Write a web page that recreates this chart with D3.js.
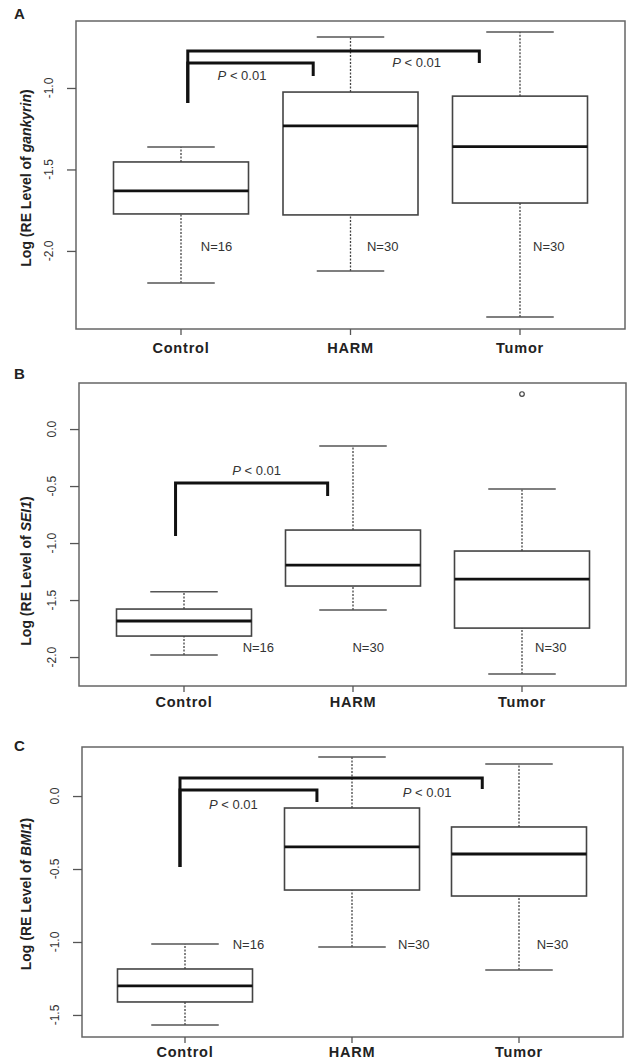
<!DOCTYPE html>
<html>
  <head>
    <meta charset="utf-8" />
    <script src="https://d3js.org/d3.v7.min.js"></script>
    <style>
      body { margin: 0; background: #fff; }
      text { font-family: "Liberation Sans", Arial, sans-serif; }
    </style>
  </head>
  <body>
    <div id="chart"></div>
    <script>
      const groups = ["Control", "HARM", "Tumor"];
      const nCounts = [16, 30, 30];

      // five-number summaries: [low whisker, Q1, median, Q3, high whisker]
      const gankyrinStats = [
        [-2.196, -1.773, -1.632, -1.454, -1.362],
        [-2.123, -1.779, -1.233, -1.025, -0.687],
        [-2.405, -1.706, -1.36, -1.05, -0.656],
      ];
      const sei1Stats = [
        [-1.982, -1.816, -1.684, -1.579, -1.428],
        [-1.588, -1.377, -1.193, -0.886, -0.149],
        [-2.149, -1.746, -1.316, -1.07, -0.526],
      ];
      const bmi1Stats = [
        [-1.568, -1.411, -1.301, -1.185, -1.014],
        [-1.034, -0.644, -0.349, -0.082, 0.267],
        [-1.192, -0.685, -0.397, -0.212, 0.219],
      ];
      const sei1Outliers = [{ group: 3, value: 0.307 }];

      const yTicksA = [-2.0, -1.5, -1.0];
      const yTicksB = [-2.0, -1.5, -1.0, -0.5, 0.0];
      const yTicksC = [-1.5, -1.0, -0.5, 0.0];
      const yDomainA = [-2.479, -0.589];
      const yDomainB = [-2.254, 0.404];
      const yDomainC = [-1.651, 0.336];

      // significance brackets: [x from, x to, top value, left foot, right foot]
      const bracketsA = [
        [1.04, 2.76, -0.773, -1.092, -0.847],
        [1.04, 1.78, -0.847, -1.092, -0.926],
      ];
      const bracketsB = [[0.95, 1.85, -0.474, -0.939, -0.588]];
      const bracketsC = [
        [0.97, 2.78, 0.123, -0.486, 0.048],
        [0.97, 1.79, 0.041, -0.486, -0.041],
      ];
      // P label positions: [x, baseline value]
      const pLabelsA = [[1.36, -0.951], [2.39, -0.871]];
      const pLabelsB = [[1.43, -0.404]];
      const pLabelsC = [[1.29, -0.089], [2.45, -0.007]];
      // N label positions: [x, value]
      const nPosA = [[1.21, -1.975], [2.19, -1.975], [3.17, -1.975]];
      const nPosB = [[1.44, -1.92], [2.09, -1.92], [3.17, -1.92]];
      const nPosC = [[1.38, -1.02], [2.37, -1.02], [3.2, -1.02]];

      const panels = [
        { letter: "A", gene: "gankyrin", stats: gankyrinStats, outliers: [], ticks: yTicksA, domain: yDomainA,
          brackets: bracketsA, pLabels: pLabelsA, nPos: nPosA,
          frame: { left: 76, right: 625, top: 21, bottom: 329 }, centers: [181, 520],
          letterY: 19, titleY: 178, xLabelY: 353 },
        { letter: "B", gene: "SEI1", stats: sei1Stats, outliers: sei1Outliers, ticks: yTicksB, domain: yDomainB,
          brackets: bracketsB, pLabels: pLabelsB, nPos: nPosB,
          frame: { left: 79, right: 626, top: 383, bottom: 686 }, centers: [184, 522],
          letterY: 379, titleY: 571, xLabelY: 707 },
        { letter: "C", gene: "BMI1", stats: bmi1Stats, outliers: [], ticks: yTicksC, domain: yDomainC,
          brackets: bracketsC, pLabels: pLabelsC, nPos: nPosC,
          frame: { left: 82, right: 623, top: 747, bottom: 1037 }, centers: [185, 519],
          letterY: 751, titleY: 894, xLabelY: 1057 },
      ];

      const svg = d3.select("#chart").append("svg").attr("width", 627).attr("height", 1062);
      const fmt = (v) => d3.format(".1f")(v).replace("−", "-");
      const boxW = 135;

      panels.forEach((p) => {
        const f = p.frame;
        const g = svg.append("g");
        const x = d3.scaleLinear().domain([1, 3]).range(p.centers);
        const y = d3.scaleLinear().domain(p.domain).range([f.bottom, f.top]);

        g.append("text").attr("x", 14).attr("y", p.letterY)
          .attr("font-size", 15).attr("font-weight", "bold").attr("fill", "#222").text(p.letter);

        // frame
        g.append("rect").attr("x", f.left).attr("y", f.top)
          .attr("width", f.right - f.left).attr("height", f.bottom - f.top)
          .attr("fill", "none").attr("stroke", "#666").attr("stroke-width", 1.5);

        // y axis
        const yAxis = g.append("g").attr("transform", `translate(${f.left},0)`)
          .call(d3.axisLeft(y).tickValues(p.ticks).tickSize(9).tickFormat(""));
        yAxis.select(".domain").remove();
        yAxis.selectAll("line").attr("stroke", "#555").attr("stroke-width", 1.3);
        g.selectAll(".ytl").data(p.ticks).enter().append("text")
          .attr("transform", (d) => `translate(${f.left - 23},${y(d)}) rotate(-90)`)
          .attr("text-anchor", "middle").attr("font-size", 12).attr("fill", "#333")
          .text(fmt);

        // y title
        const t = g.append("text")
          .attr("transform", `translate(31,${p.titleY}) rotate(-90)`)
          .attr("text-anchor", "middle").attr("font-size", 14).attr("font-weight", "bold").attr("fill", "#222");
        t.append("tspan").text("Log (RE Level of ");
        t.append("tspan").attr("font-style", "italic").text(p.gene);
        t.append("tspan").text(")");

        // x axis ticks and labels
        g.selectAll(".xt").data(groups).enter().append("line")
          .attr("x1", (d, i) => x(i + 1)).attr("x2", (d, i) => x(i + 1))
          .attr("y1", f.bottom).attr("y2", f.bottom + 6)
          .attr("stroke", "#555").attr("stroke-width", 1.3);
        g.selectAll(".xl").data(groups).enter().append("text")
          .attr("x", (d, i) => x(i + 1)).attr("y", p.xLabelY)
          .attr("text-anchor", "middle").attr("font-size", 14.5).attr("letter-spacing", 0.8)
          .attr("font-weight", "bold").attr("fill", "#222")
          .text((d) => d);

        // boxes
        const box = g.selectAll(".box").data(p.stats).enter().append("g");
        box.append("line").attr("x1", (d, i) => x(i + 1)).attr("x2", (d, i) => x(i + 1))
          .attr("y1", (d) => y(d[3])).attr("y2", (d) => y(d[4]))
          .attr("stroke", "#444").attr("stroke-width", 1.3).attr("stroke-dasharray", "2,1.5");
        box.append("line").attr("x1", (d, i) => x(i + 1)).attr("x2", (d, i) => x(i + 1))
          .attr("y1", (d) => y(d[0])).attr("y2", (d) => y(d[1]))
          .attr("stroke", "#444").attr("stroke-width", 1.3).attr("stroke-dasharray", "2,1.5");
        [0, 4].forEach((k) => {
          box.append("line").attr("x1", (d, i) => x(i + 1) - boxW / 4).attr("x2", (d, i) => x(i + 1) + boxW / 4)
            .attr("y1", (d) => y(d[k])).attr("y2", (d) => y(d[k]))
            .attr("stroke", "#555").attr("stroke-width", 1.5);
        });
        box.append("rect").attr("x", (d, i) => x(i + 1) - boxW / 2).attr("width", boxW)
          .attr("y", (d) => y(d[3])).attr("height", (d) => y(d[1]) - y(d[3]))
          .attr("fill", "none").attr("stroke", "#444").attr("stroke-width", 1.6);
        box.append("line").attr("x1", (d, i) => x(i + 1) - boxW / 2).attr("x2", (d, i) => x(i + 1) + boxW / 2)
          .attr("y1", (d) => y(d[2])).attr("y2", (d) => y(d[2]))
          .attr("stroke", "#111").attr("stroke-width", 2.8);

        g.selectAll(".out").data(p.outliers).enter().append("circle")
          .attr("cx", (d) => x(d.group)).attr("cy", (d) => y(d.value)).attr("r", 2.3)
          .attr("fill", "none").attr("stroke", "#444").attr("stroke-width", 1.2);

        // brackets
        g.selectAll(".br").data(p.brackets).enter().append("path")
          .attr("d", (d) => `M${x(d[0])},${y(d[3])}V${y(d[2])}H${x(d[1])}V${y(d[4])}`)
          .attr("fill", "none").attr("stroke", "#111").attr("stroke-width", 3);
        p.pLabels.forEach((d) => {
          const pt = g.append("text").attr("x", x(d[0])).attr("y", y(d[1]))
            .attr("text-anchor", "middle").attr("font-size", 13).attr("fill", "#333");
          pt.append("tspan").attr("font-style", "italic").text("P");
          pt.append("tspan").text(" < 0.01");
        });

        // N labels
        g.selectAll(".nl").data(p.nPos).enter().append("text")
          .attr("x", (d) => x(d[0])).attr("y", (d) => y(d[1])).attr("dy", "0.35em")
          .attr("text-anchor", "middle").attr("font-size", 13).attr("fill", "#333")
          .text((d, i) => "N=" + nCounts[i]);
      });
    </script>
  </body>
</html>
